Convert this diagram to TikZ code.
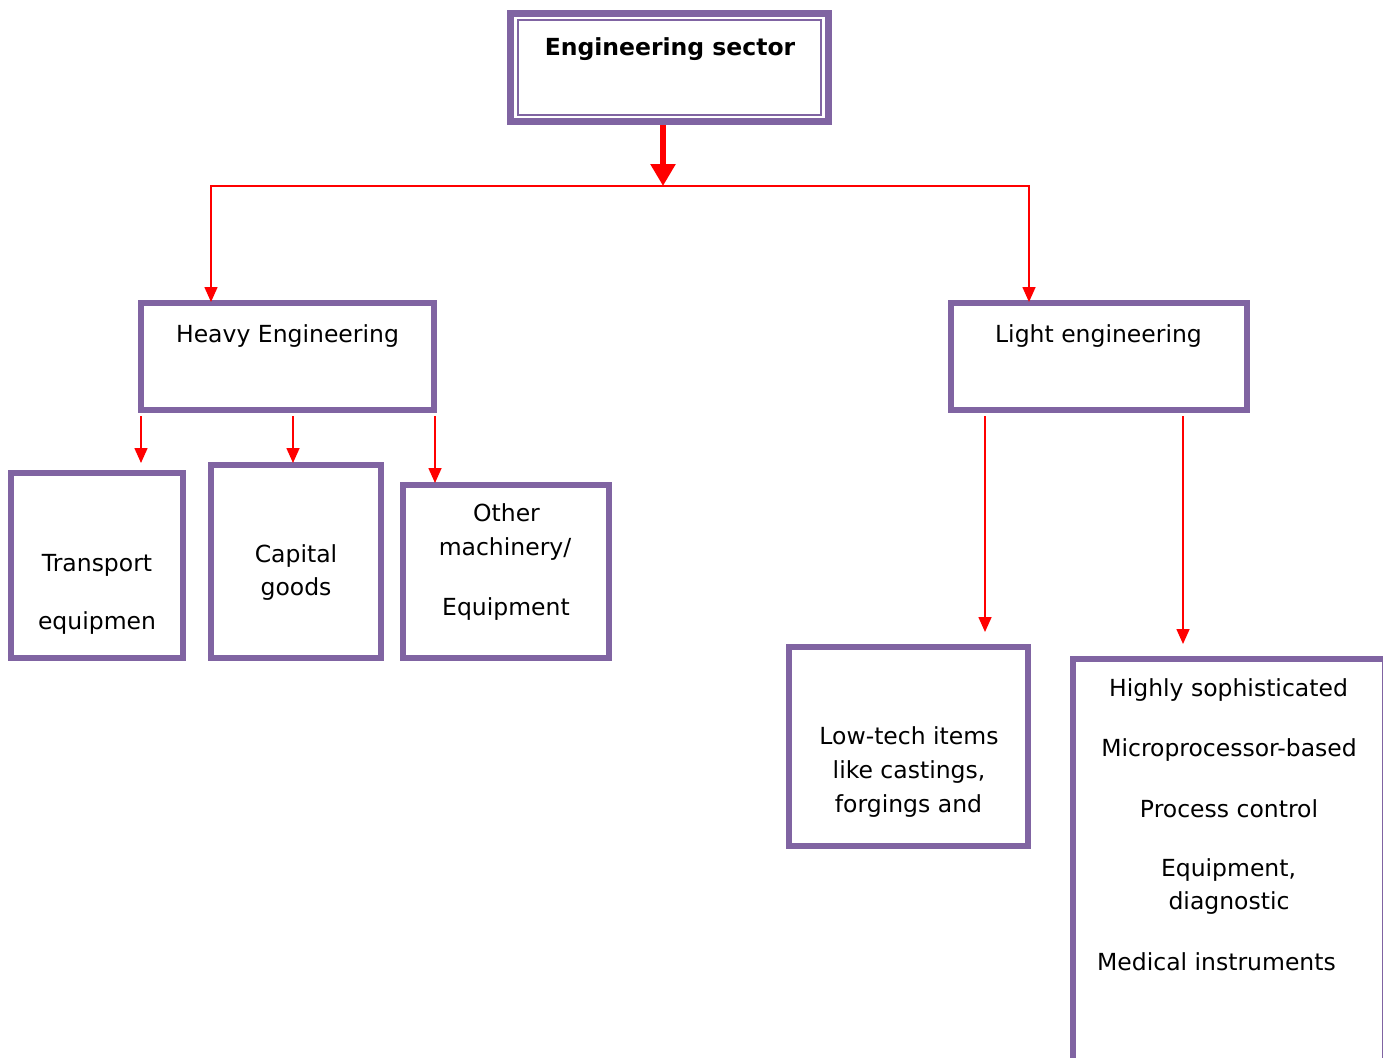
\documentclass[tikz,border=0pt]{standalone}
\usepackage{fontspec}
\setmainfont{DejaVu Sans}
\usetikzlibrary{arrows.meta,calc}
\definecolor{boxpurple}{HTML}{8064A2}
\definecolor{arrred}{HTML}{FF0000}
\begin{document}
\begin{tikzpicture}[x=1pt,y=-1pt,
  box/.style={draw=boxpurple, line width=6pt, inner sep=0pt, outer sep=0pt, fill=white},
  txt/.style={anchor=base, inner sep=0pt, font=\fontsize{23.5}{34}\selectfont},
  btxt/.style={txt, font=\fontsize{23.5}{34}\selectfont\bfseries},
  arr/.style={draw=arrred, line width=1.6pt, -{Triangle[width=13pt,length=15pt]}},
  thickarr/.style={draw=arrred, line width=6pt, -{Triangle[width=24pt,length=22pt]}}]
\useasboundingbox (0,0) rectangle (1383,1057);
\clip (0,0) rectangle (1383,1057);
\fill[white] (0,0) rectangle (1383,1057);

% boxes
\node[box, line width=7pt, minimum width=318pt, minimum height=108pt] (top) at (669.5,67.5) {};
\draw[boxpurple, line width=2.5pt] ($(top.north west)+(7.5,6.5)$) rectangle ($(top.south east)+(-7.5,-6.5)$);
\node[box, minimum width=293pt, minimum height=107pt] (heavy) at (287.5,356.5) {};
\node[box, minimum width=296pt, minimum height=107pt] (light) at (1099,356.5) {};
\node[box, minimum width=172pt, minimum height=185pt] (tr) at (97,565.5) {};
\node[box, minimum width=170pt, minimum height=193pt] (cap) at (296,561.5) {};
\node[box, minimum width=206pt, minimum height=173pt] (oth) at (506,571.5) {};
\node[box, minimum width=239pt, minimum height=199pt] (low) at (908.5,746.5) {};
\node[box, minimum width=312pt, minimum height=406pt] (tall) at (1229,862) {};

% connectors
\coordinate (split) at (663,186);
\draw[thickarr] ($(split |- top.south)+(0,3.5)$) -- (split);
\draw[arr] (split) -| ($(heavy.north west)+(70,-1)$);
\draw[arr] (split) -| ($(light.north west)+(78,-1)$);
\draw[arr] ($(heavy.south west)+(0,6)$) -- ($(heavy.south west |- tr.north)+(0,-10)$);
\draw[arr] ($(heavy.south west)+(152,6)$) -- ($(heavy.south west |- cap.north)+(152,-2)$);
\draw[arr] ($(heavy.south east)+(1,6)$) -- ($(heavy.south east |- oth.north)+(1,-2)$);
\draw[arr] ($(light.south west)+(34,6)$) -- ($(light.south west |- low.north)+(34,-15)$);
\draw[arr] ($(light.south west)+(232,6)$) -- ($(light.south west |- tall.north)+(232,-15)$);

% texts
\node[btxt] (t0) at (670,56) {Engineering sector};
\node[txt] (t1) at (287.5,342) {Heavy Engineering};
\node[txt] (t2) at (1098.5,342) {Light engineering};
\node[txt] (t3) at (97,571) {Transport};
\node[txt] (t4) at (97,629) {equipmen};
\node[txt] (t5) at (296,562) {Capital};
\node[txt] (t6) at (296,595) {goods};
\node[txt] (t7) at (506.5,521) {Other};
\node[txt] (t8) at (505,555) {machinery/};
\node[txt] (t9) at (506,615) {Equipment};
\node[txt] (t10) at (909,744) {Low-tech items};
\node[txt] (t11) at (909,778) {like castings,};
\node[txt] (t12) at (908.5,812) {forgings and};
\node[txt] (t13) at (1228.5,696) {Highly sophisticated};
\node[txt] (t14) at (1229,756) {Microprocessor-based};
\node[txt] (t15) at (1229,817) {Process control};
\node[txt] (t16) at (1228.5,876) {Equipment,};
\node[txt] (t17) at (1229,909) {diagnostic};
\node[txt] (t18) at (1216.5,970) {Medical instruments};
\end{tikzpicture}
\end{document}
